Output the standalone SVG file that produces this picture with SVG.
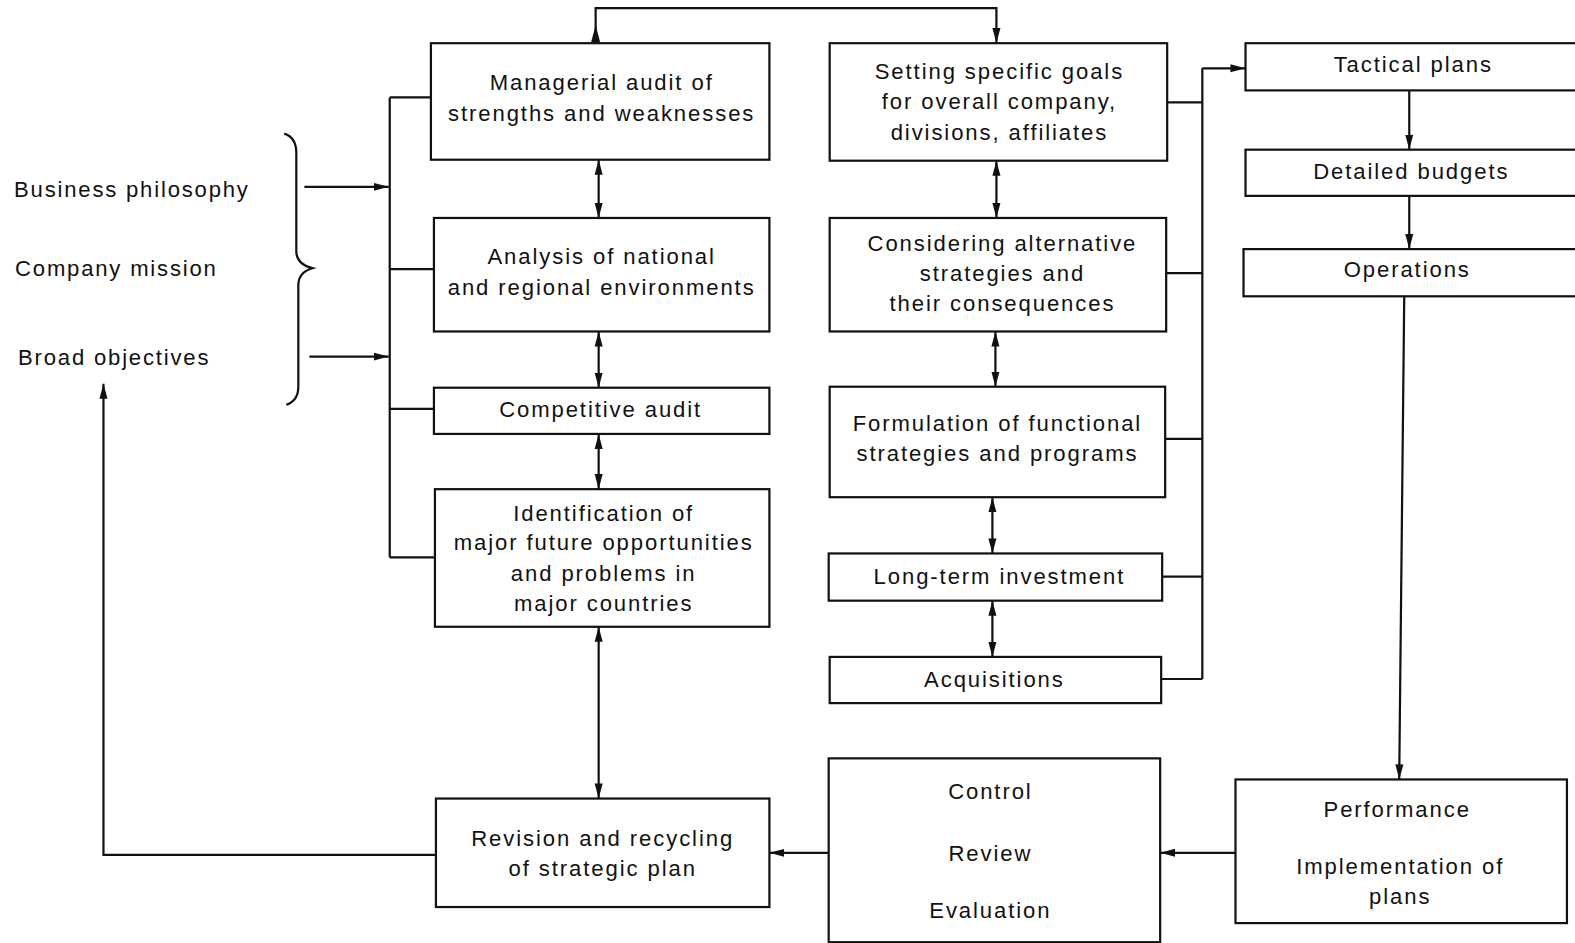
<svg xmlns="http://www.w3.org/2000/svg" width="1575" height="943" viewBox="0 0 1575 943">
<style>
.box{fill:#fff;stroke:#111;stroke-width:2.2}
.t{font-family:"Liberation Sans",Arial,sans-serif;font-size:22px;letter-spacing:1.9px;fill:#111;text-anchor:middle}
.tl{font-family:"Liberation Sans",Arial,sans-serif;font-size:22px;letter-spacing:1.8px;fill:#111}
.ln{fill:none;stroke:#111;stroke-width:2.2}
</style>
<defs>
<marker id="arr" markerUnits="userSpaceOnUse" markerWidth="16" markerHeight="10" refX="15" refY="5" orient="auto-start-reverse">
<path d="M0,1 L15,5 L0,9 z" fill="#111"/>
</marker>
</defs>
<rect width="1575" height="943" fill="#fff"/>
<g transform="scale(1.00446)">
<g id="connectors">
<path class="ln" d="M593,43 V8 H992 V43" marker-end="url(#arr)"/>
<polygon points="593,25 588.5,42 597.5,42" fill="#111"/>
<path class="ln" d="M596,159 V217" marker-start="url(#arr)" marker-end="url(#arr)"/>
<path class="ln" d="M596,330 V386" marker-start="url(#arr)" marker-end="url(#arr)"/>
<path class="ln" d="M596,432 V487" marker-start="url(#arr)" marker-end="url(#arr)"/>
<path class="ln" d="M596,624 V795" marker-start="url(#arr)" marker-end="url(#arr)"/>
<path class="ln" d="M992,160 V217" marker-start="url(#arr)" marker-end="url(#arr)"/>
<path class="ln" d="M991,330 V385" marker-start="url(#arr)" marker-end="url(#arr)"/>
<path class="ln" d="M988,495 V551" marker-start="url(#arr)" marker-end="url(#arr)"/>
<path class="ln" d="M988,598 V654" marker-start="url(#arr)" marker-end="url(#arr)"/>
<path class="ln" d="M388,97 V555"/>
<path class="ln" d="M388,97 H429 M388,268 H432 M388,407 H432 M388,555 H433"/>
<path class="ln" d="M303,186 H387" marker-end="url(#arr)"/>
<path class="ln" d="M308,355 H387" marker-end="url(#arr)"/>
<path class="ln" d="M1197,68 V676"/>
<path class="ln" d="M1162,102 H1197 M1161,272 H1197 M1160,437 H1197 M1157,574 H1197 M1156,676 H1197"/>
<path class="ln" d="M1197,68 H1240" marker-end="url(#arr)"/>
<path class="ln" d="M1403,90 V149" marker-end="url(#arr)"/>
<path class="ln" d="M1403,195 V248" marker-end="url(#arr)"/>
<path class="ln" d="M1398,295 L1393,776" marker-end="url(#arr)"/>
<path class="ln" d="M1230,849 H1155" marker-end="url(#arr)"/>
<path class="ln" d="M825,849 H766" marker-end="url(#arr)"/>
<path class="ln" d="M434,851 H103 V382" marker-end="url(#arr)"/>
<path class="ln" d="M283,133 Q295,137 295,152 L295,250 Q295,263 311,267 Q297,271 297,284 L297,385 Q297,399 285,403" stroke-width="1.8"/>
</g>
<g id="inputs">
<text class="tl" x="14" y="196">Business philosophy</text>
<text class="tl" x="15" y="275">Company mission</text>
<text class="tl" x="18" y="363">Broad objectives</text>
</g>
<g id="n-managerial"><rect class="box" x="429" y="43" width="337" height="116"/>
<text class="t" x="599" y="90">Managerial audit of</text><text class="t" x="599" y="120">strengths and weaknesses</text></g>
<g id="n-analysis"><rect class="box" x="432" y="217" width="334" height="113"/>
<text class="t" x="599" y="263">Analysis of national</text><text class="t" x="599" y="294">and regional environments</text></g>
<g id="n-competitive"><rect class="box" x="432" y="386" width="334" height="46"/>
<text class="t" x="598" y="415">Competitive audit</text></g>
<g id="n-identification"><rect class="box" x="433" y="487" width="333" height="137"/>
<text class="t" x="601" y="519">Identification of</text><text class="t" x="601" y="548">major future opportunities</text><text class="t" x="601" y="578">and problems in</text><text class="t" x="601" y="608">major countries</text></g>
<g id="n-revision"><rect class="box" x="434" y="795" width="332" height="108"/>
<text class="t" x="600" y="842">Revision and recycling</text><text class="t" x="600" y="872">of strategic plan</text></g>
<g id="n-goals"><rect class="box" x="826" y="43" width="336" height="117"/>
<text class="t" x="995" y="79">Setting specific goals</text><text class="t" x="995" y="109">for overall company,</text><text class="t" x="995" y="139">divisions, affiliates</text></g>
<g id="n-alternatives"><rect class="box" x="826" y="217" width="335" height="113"/>
<text class="t" x="998" y="250">Considering alternative</text><text class="t" x="998" y="280">strategies and</text><text class="t" x="998" y="310">their consequences</text></g>
<g id="n-functional"><rect class="box" x="826" y="385" width="334" height="110"/>
<text class="t" x="993" y="429">Formulation of functional</text><text class="t" x="993" y="459">strategies and programs</text></g>
<g id="n-longterm"><rect class="box" x="825" y="551" width="332" height="47"/>
<text class="t" x="995" y="581">Long-term investment</text></g>
<g id="n-acquisitions"><rect class="box" x="826" y="654" width="330" height="46"/>
<text class="t" x="990" y="684">Acquisitions</text></g>
<g id="n-control"><rect class="box" x="825" y="755" width="330" height="183"/>
<text class="t" x="986" y="795">Control</text><text class="t" x="986" y="857">Review</text><text class="t" x="986" y="914">Evaluation</text></g>
<g id="n-tactical"><rect class="box" x="1240" y="43" width="345" height="47"/>
<text class="t" x="1407" y="72">Tactical plans</text></g>
<g id="n-budgets"><rect class="box" x="1240" y="149" width="345" height="46"/>
<text class="t" x="1405" y="178">Detailed budgets</text></g>
<g id="n-operations"><rect class="box" x="1238" y="248" width="347" height="47"/>
<text class="t" x="1401" y="276">Operations</text></g>
<g id="n-performance"><rect class="box" x="1230" y="776" width="330" height="143"/>
<text class="t" x="1391" y="813">Performance</text><text class="t" x="1394" y="870">Implementation of</text><text class="t" x="1394" y="900">plans</text></g>
</g>
</svg>
